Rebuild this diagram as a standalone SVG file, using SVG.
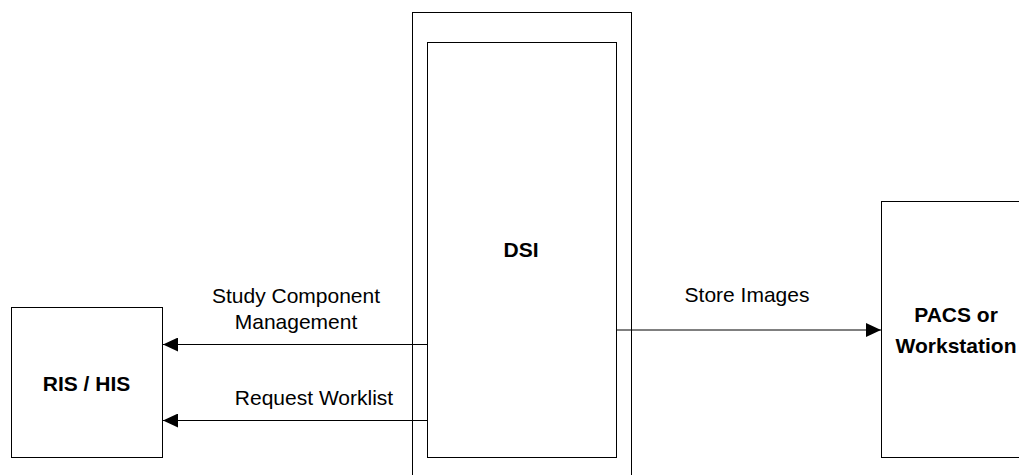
<svg xmlns="http://www.w3.org/2000/svg" width="1019" height="475" viewBox="0 0 1019 475">
<style>
.b{fill:#fff;stroke:#000;stroke-width:1}
.t{font-family:"Liberation Sans",Arial,sans-serif;font-size:21px;fill:#000;text-anchor:middle}
.h{font-weight:bold}
.c{stroke:#000;stroke-width:1;fill:none}
</style>
<defs>
<marker id="a" markerUnits="userSpaceOnUse" markerWidth="15" markerHeight="14" refX="15" refY="7" orient="auto"><path d="M0 0L15 7L0 14z" fill="#000"/></marker>
</defs>
<rect width="1019" height="475" fill="#fff"/>
<g id="dsi-outer"><rect class="b" x="412.500" y="12.500" width="219" height="463"/></g>
<g id="dsi"><rect class="b" x="427.500" y="42.500" width="189" height="415"/><text class="t h" x="521" y="257">DSI</text></g>
<g id="ris"><rect class="b" x="11.500" y="307.500" width="151" height="150"/><text class="t h" x="86.500" y="391">RIS / HIS</text></g>
<g id="pacs"><rect class="b" x="881.500" y="201.500" width="140" height="256"/><text class="t h" x="956" y="322">PACS or</text><text class="t h" x="956" y="353">Workstation</text></g>
<g id="connectors">
<path class="c" d="M427 344.500H163" marker-end="url(#a)"/>
<path class="c" d="M427 420.500H163" marker-end="url(#a)"/>
<path class="c" d="M617 330H881" marker-end="url(#a)"/>
</g>
<text class="t" x="296" y="303">Study Component</text>
<text class="t" x="296" y="329">Management</text>
<text class="t" x="314" y="405">Request Worklist</text>
<text class="t" x="747" y="302">Store Images</text>
</svg>
